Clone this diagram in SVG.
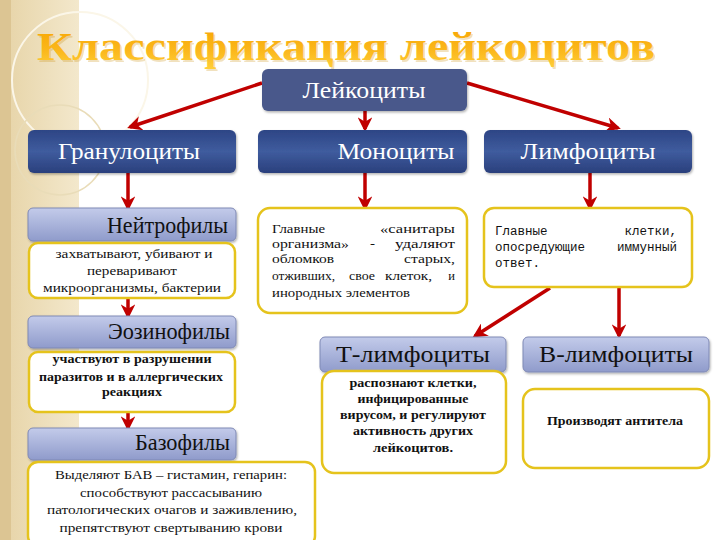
<svg xmlns="http://www.w3.org/2000/svg" width="720" height="540" viewBox="0 0 720 540">
<defs>
<linearGradient id="gTitle" x1="0" y1="0" x2="0" y2="1">
<stop offset="0" stop-color="#f7a400"/>
<stop offset="0.6" stop-color="#fbb81c"/>
<stop offset="1" stop-color="#ffcf3a"/>
</linearGradient>
<linearGradient id="gDark" x1="0" y1="0" x2="0" y2="1">
<stop offset="0" stop-color="#2d4585"/>
<stop offset="0.5" stop-color="#3f5c9e"/>
<stop offset="1" stop-color="#2a3f7c"/>
</linearGradient>
<linearGradient id="gLight" x1="0" y1="0" x2="0" y2="1">
<stop offset="0" stop-color="#c3cbea"/>
<stop offset="1" stop-color="#8f9bcb"/>
</linearGradient>
<linearGradient id="gStrip" x1="0" y1="0" x2="1" y2="0">
<stop offset="0" stop-color="#e6d3a6"/>
<stop offset="1" stop-color="#f3e8cc"/>
</linearGradient>
<marker id="ah" viewBox="0 0 10 10" refX="8" refY="5" markerWidth="4.2" markerHeight="4.2" orient="auto" markerUnits="strokeWidth">
<path d="M0,0 L10,5 L0,10 L3,5 Z" fill="#c00000"/>
</marker>
<filter id="sh" x="-10%" y="-10%" width="120%" height="130%">
<feDropShadow dx="1" dy="1.5" stdDeviation="1.2" flood-color="#000" flood-opacity="0.3"/>
</filter>
</defs>
<style>
.dark{fill:url(#gDark);}
.light{fill:url(#gLight);stroke:#7f89b5;stroke-width:1;}
.desc{fill:#fff;stroke:#e5c31c;stroke-width:2.5;}
.ttl{font-family:'Liberation Serif','DejaVu Serif',serif;font-size:40px;font-weight:bold;text-anchor:middle;}
.wt{font-family:'Liberation Serif','DejaVu Serif',serif;fill:#fff;font-size:24px;text-anchor:middle;}
.hd{font-family:'Liberation Serif','DejaVu Serif',serif;fill:#111;font-size:24px;}
.sm{font-family:'Liberation Serif','DejaVu Serif',serif;fill:#111;font-size:13px;text-anchor:middle;}
.bd{font-family:'Liberation Serif','DejaVu Serif',serif;fill:#111;font-size:13px;font-weight:bold;text-anchor:middle;}
.mo{font-family:'Liberation Serif','DejaVu Serif',serif;fill:#111;font-size:12.5px;}
.ly{font-family:'Liberation Mono','DejaVu Sans Mono',monospace;fill:#111;font-size:12.5px;}
.arr{stroke:#c00000;stroke-width:3.5;fill:none;marker-end:url(#ah);}
</style>
<rect width="720" height="540" fill="#fff"/>
<g id="background">
<rect x="0" y="0" width="79" height="540" fill="url(#gStrip)"/>
<rect x="0" y="0" width="11" height="540" fill="#dcc593"/>
<circle cx="80" cy="80" r="68" fill="none" stroke="#fbf6e8" stroke-width="2"/>
<circle cx="60" cy="150" r="45" fill="none" stroke="#e9dcb8" stroke-width="1.5"/>
</g>
<g id="title">
<text class="ttl" x="347.5" y="61.5" fill="#c88a00" opacity="0.25" textLength="618" lengthAdjust="spacingAndGlyphs">Классификация лейкоцитов</text>
<text class="ttl" x="346" y="60" fill="url(#gTitle)" textLength="618" lengthAdjust="spacingAndGlyphs">Классификация лейкоцитов</text>
</g>
<g id="connectors">
<line class="arr" x1="262" y1="83" x2="130" y2="127"/>
<line class="arr" x1="467" y1="83" x2="618" y2="128"/>
<line class="arr" x1="365" y1="111" x2="365" y2="129"/>
<line class="arr" x1="128" y1="173" x2="128" y2="208"/>
<line class="arr" x1="365" y1="173" x2="365" y2="208"/>
<line class="arr" x1="590" y1="173" x2="590" y2="208"/>
<line class="arr" x1="128" y1="298" x2="128" y2="316"/>
<line class="arr" x1="128" y1="412" x2="128" y2="428"/>
<line class="arr" x1="550" y1="288" x2="475" y2="336"/>
<line class="arr" x1="619" y1="288" x2="619" y2="336"/>
</g>
<g id="n-leuk">
<rect x="262" y="69" width="205" height="42" rx="6" fill="#48598b" filter="url(#sh)"/>
<text class="wt" x="364" y="98" font-size="23" textLength="123" lengthAdjust="spacingAndGlyphs">Лейкоциты</text>
</g>
<g id="n-gran">
<rect class="dark" x="28" y="130" width="208" height="43" rx="6" filter="url(#sh)"/>
<text class="wt" x="129" y="159" textLength="142" lengthAdjust="spacingAndGlyphs">Гранулоциты</text>
</g>
<g id="n-mono">
<rect class="dark" x="258" y="130" width="209" height="43" rx="6" filter="url(#sh)"/>
<text class="wt" x="396" y="159" textLength="117" lengthAdjust="spacingAndGlyphs">Моноциты</text>
</g>
<g id="n-lymph">
<rect class="dark" x="484" y="130" width="208" height="43" rx="6" filter="url(#sh)"/>
<text class="wt" x="588" y="159" textLength="135" lengthAdjust="spacingAndGlyphs">Лимфоциты</text>
</g>
<g id="n-neut">
<rect class="light" x="28" y="208" width="208" height="33" rx="5" filter="url(#sh)"/>
<text class="hd" x="228" y="233" text-anchor="end" textLength="121" lengthAdjust="spacingAndGlyphs">Нейтрофилы</text>
<rect class="desc" x="29" y="243" width="206" height="55" rx="9"/>
<text class="sm" x="134" y="258" textLength="157" lengthAdjust="spacingAndGlyphs">захватывают, убивают и</text>
<text class="sm" x="132" y="275" textLength="90" lengthAdjust="spacingAndGlyphs">переваривают</text>
<text class="sm" x="132" y="292" textLength="178" lengthAdjust="spacingAndGlyphs">микроорганизмы, бактерии</text>
</g>
<g id="n-eos">
<rect class="light" x="28" y="316" width="208" height="32" rx="5" filter="url(#sh)"/>
<text class="hd" x="230" y="339" text-anchor="end" textLength="122" lengthAdjust="spacingAndGlyphs">Эозинофилы</text>
<rect class="desc" x="29" y="352" width="206" height="60" rx="9"/>
<text class="bd" x="132" y="363" textLength="159" lengthAdjust="spacingAndGlyphs">участвуют в разрушении</text>
<text class="bd" x="131" y="381" textLength="184" lengthAdjust="spacingAndGlyphs">паразитов и в аллергических</text>
<text class="bd" x="132" y="396" textLength="60" lengthAdjust="spacingAndGlyphs">реакциях</text>
</g>
<g id="n-baso">
<rect class="light" x="28" y="428" width="208" height="32" rx="5" filter="url(#sh)"/>
<text class="hd" x="230" y="450" text-anchor="end" textLength="95" lengthAdjust="spacingAndGlyphs">Базофилы</text>
<rect class="desc" x="28" y="462" width="287" height="84" rx="10"/>
<text class="sm" x="171" y="479" textLength="232" lengthAdjust="spacingAndGlyphs">Выделяют БАВ – гистамин, гепарин:</text>
<text class="sm" x="171" y="497" textLength="182" lengthAdjust="spacingAndGlyphs">способствуют рассасыванию</text>
<text class="sm" x="172" y="514" textLength="250" lengthAdjust="spacingAndGlyphs">патологических очагов и заживлению,</text>
<text class="sm" x="171" y="532" textLength="223" lengthAdjust="spacingAndGlyphs">препятствуют свертыванию крови</text>
</g>
<g id="n-mono-desc">
<rect class="desc" x="258" y="208" width="209" height="105" rx="12"/>
<text class="mo" x="272" y="233" textLength="53" lengthAdjust="spacingAndGlyphs">Главные</text>
<text class="mo" x="380" y="233" textLength="75" lengthAdjust="spacingAndGlyphs">«санитары</text>
<text class="mo" x="272" y="248" textLength="77" lengthAdjust="spacingAndGlyphs">организма»</text>
<text class="mo" x="370" y="248" textLength="5" lengthAdjust="spacingAndGlyphs">-</text>
<text class="mo" x="395" y="248" textLength="60" lengthAdjust="spacingAndGlyphs">удаляют</text>
<text class="mo" x="272" y="263" textLength="62" lengthAdjust="spacingAndGlyphs">обломков</text>
<text class="mo" x="404" y="263" textLength="51" lengthAdjust="spacingAndGlyphs">старых,</text>
<text class="mo" x="272" y="280" textLength="63" lengthAdjust="spacingAndGlyphs">отживших,</text>
<text class="mo" x="349" y="280" textLength="26" lengthAdjust="spacingAndGlyphs">свое</text>
<text class="mo" x="385" y="280" textLength="47" lengthAdjust="spacingAndGlyphs">клеток,</text>
<text class="mo" x="455" y="280" text-anchor="end">и</text>
<text class="mo" x="272" y="297" textLength="138" lengthAdjust="spacingAndGlyphs">инородных элементов</text>
</g>
<g id="n-lymph-desc">
<rect class="desc" x="484" y="208" width="208" height="79" rx="10"/>
<text class="ly" x="495" y="235">Главные</text>
<text class="ly" x="677" y="235" text-anchor="end">клетки,</text>
<text class="ly" x="495" y="251">опосредующие</text>
<text class="ly" x="677" y="251" text-anchor="end">иммунный</text>
<text class="ly" x="495" y="267">ответ.</text>
</g>
<g id="n-t">
<rect class="light" x="320" y="337" width="186" height="35" rx="5" filter="url(#sh)"/>
<text class="hd" x="413" y="362" text-anchor="middle" font-size="26" textLength="154" lengthAdjust="spacingAndGlyphs">Т-лимфоциты</text>
<rect class="desc" x="322" y="371" width="184" height="102" rx="12"/>
<text class="bd" x="413" y="387" textLength="127" lengthAdjust="spacingAndGlyphs">распознают клетки,</text>
<text class="bd" x="413" y="403" textLength="111" lengthAdjust="spacingAndGlyphs">инфицированные</text>
<text class="bd" x="413" y="419" textLength="146" lengthAdjust="spacingAndGlyphs">вирусом, и регулируют</text>
<text class="bd" x="413" y="435" textLength="120" lengthAdjust="spacingAndGlyphs">активность других</text>
<text class="bd" x="413" y="452" textLength="80" lengthAdjust="spacingAndGlyphs">лейкоцитов.</text>
</g>
<g id="n-b">
<rect class="light" x="523" y="337" width="186" height="35" rx="5" filter="url(#sh)"/>
<text class="hd" x="616" y="362" text-anchor="middle" font-size="26" textLength="154" lengthAdjust="spacingAndGlyphs">В-лимфоциты</text>
<rect class="desc" x="523" y="389" width="186" height="79" rx="12"/>
<text class="bd" x="615" y="425" font-size="12" textLength="136" lengthAdjust="spacingAndGlyphs">Производят антитела</text>
</g>
</svg>
